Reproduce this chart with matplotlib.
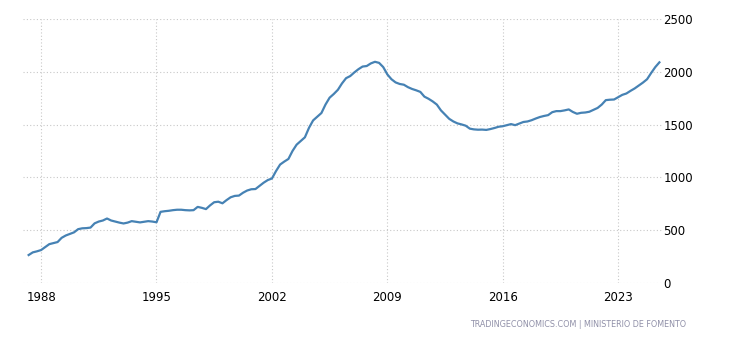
import matplotlib
matplotlib.use("Agg")
import matplotlib.pyplot as plt
import matplotlib.dates as mdates
import pandas as pd

# Spain housing price index (EUR/m2), quarterly, 1987Q1 - 2025Q2
quarters = pd.period_range("1987Q1", "2025Q2", freq="Q")
values = [
    265, 290, 300,
    312, 340, 368, 378,        # 1988
    388, 428, 450, 465,        # 1989
    480, 510, 518, 520,        # 1990
    525, 565, 582, 592,        # 1991
    611, 592, 582, 572,        # 1992
    564, 572, 586, 580,        # 1993
    574, 580, 586, 582,        # 1994
    575, 674, 680, 684,        # 1995
    690, 694, 694, 690,        # 1996
    688, 690, 721, 712,        # 1997
    700, 735, 765, 770,        # 1998
    755, 785, 812, 825,        # 1999
    828, 855, 876, 888,        # 2000
    890, 920, 950, 975,        # 2001
    990, 1060, 1122, 1150,     # 2002
    1175, 1250, 1310, 1345,    # 2003
    1380, 1470, 1540, 1575,    # 2004
    1610, 1690, 1755, 1790,    # 2005
    1830, 1890, 1940, 1960,    # 2006
    1995, 2025, 2050, 2055,    # 2007
    2080, 2095, 2085, 2045,    # 2008
    1975, 1930, 1900, 1885,    # 2009
    1878, 1855, 1838, 1825,    # 2010
    1810, 1765, 1745, 1720,    # 2011
    1690, 1635, 1595, 1555,    # 2012
    1530, 1512, 1502, 1490,    # 2013
    1462, 1455, 1452, 1453,    # 2014
    1450, 1458, 1468, 1480,    # 2015
    1485, 1495, 1505, 1495,    # 2016
    1510, 1525, 1530, 1542,    # 2017
    1558, 1572, 1582, 1590,    # 2018
    1618, 1628, 1628, 1635,    # 2019
    1644, 1620, 1603, 1612,    # 2020
    1615, 1622, 1640, 1658,    # 2021
    1690, 1732, 1736, 1738,    # 2022
    1760, 1782, 1795, 1820,    # 2023
    1843, 1870, 1898, 1930,    # 2024
    1990, 2045, 2090,          # 2025
]
tick_years = [1988, 1995, 2002, 2009, 2016, 2023]
y_ticks = [0, 500, 1000, 1500, 2000, 2500]
source = "TRADINGECONOMICS.COM | MINISTERIO DE FOMENTO"

dates = quarters.to_timestamp(how="end")

fig = plt.figure(figsize=(7.3, 3.4), dpi=100)
ax = fig.add_axes([0.0315, 0.1676, 0.8755, 0.7764])

ax.plot(dates, values, color="#4682b4", linewidth=1.6)

ax.set_ylim(0, 2500)
ax.set_yticks(y_ticks)
ax.set_xlim(pd.Timestamp("1986-11-27"), pd.Timestamp("2025-08-30"))
ax.set_xticks([pd.Timestamp(f"{y}-01-01") for y in tick_years])
ax.xaxis.set_major_formatter(mdates.DateFormatter("%Y"))

ax.yaxis.tick_right()
ax.tick_params(axis="both", length=0, labelsize=8.5, colors="#000000")
ax.tick_params(axis="y", pad=1)
ax.tick_params(axis="x", pad=6)

ax.grid(True, color="#c8c8c8", linestyle=(0, (1, 2)), linewidth=0.8)
for s in ax.spines.values():
    s.set_visible(False)

fig.text(0.94, 0.045, source, ha="right", va="center", fontsize=5.8,
         color="#9090a8")

fig.savefig("out.png", dpi=100)
